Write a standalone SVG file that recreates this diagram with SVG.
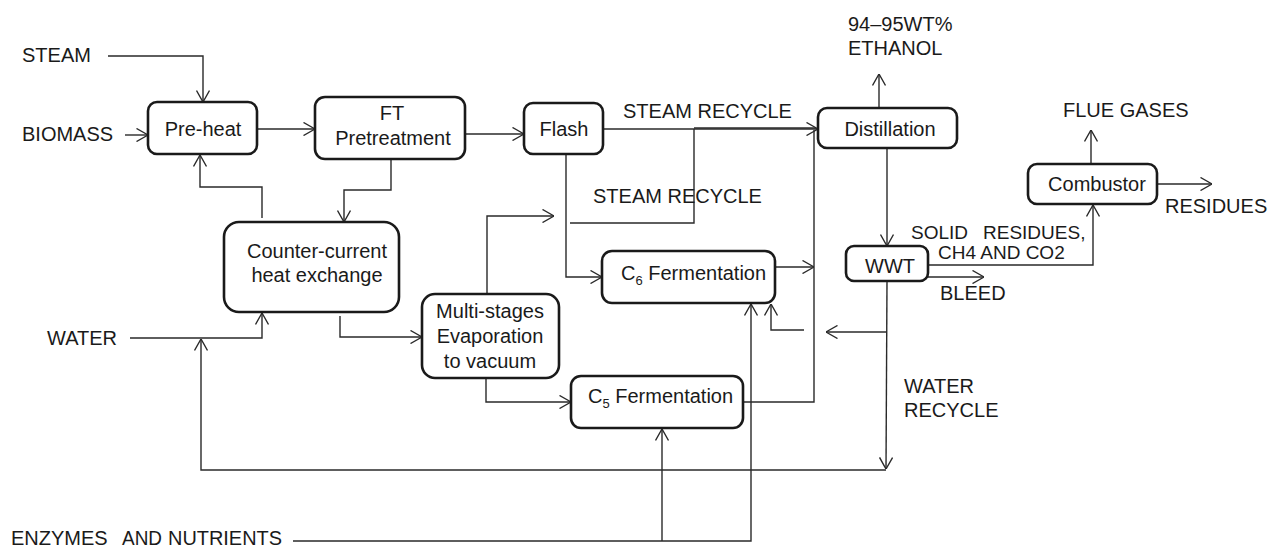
<svg xmlns="http://www.w3.org/2000/svg" width="1269" height="548" viewBox="0 0 1269 548">
<defs>
<style>
text{font-family:"Liberation Sans",Arial,sans-serif;font-size:20px;fill:#1a1a1a}
.box{fill:#fff;stroke:#1a1a1a;stroke-width:2.6}
.c{fill:none;stroke:#2a2a2a;stroke-width:1.4}
.m{text-anchor:middle}
.s{font-size:19px}
</style>
<marker id="a" viewBox="0 0 12 14" refX="12" refY="7" markerWidth="12" markerHeight="14" markerUnits="userSpaceOnUse" orient="auto">
<path d="M0.5,0.5 L12,7 L0.5,13.5" fill="none" stroke="#2a2a2a" stroke-width="1.4"/>
</marker>
</defs>
<rect width="1269" height="548" fill="#fff"/>
<g id="connectors">
<path class="c" d="M108,56 H203 V102" marker-end="url(#a)"/>
<path class="c" d="M125,135 H148" marker-end="url(#a)"/>
<path class="c" d="M257,129 H315" marker-end="url(#a)"/>
<path class="c" d="M465,134 H524" marker-end="url(#a)"/>
<path class="c" d="M603,129 H818" marker-end="url(#a)"/>
<path class="c" d="M694,128 H816" stroke-width="2"/>
<path class="c" d="M570,223 H694 V129"/>
<path class="c" d="M566,154 V277 H602" marker-end="url(#a)"/>
<path class="c" d="M879,108 V74" marker-end="url(#a)"/>
<path class="c" d="M887,148 V246" marker-end="url(#a)"/>
<path class="c" d="M928,265 H1093 V205" marker-end="url(#a)"/>
<path class="c" d="M928,277 H984" marker-end="url(#a)"/>
<path class="c" d="M1091,164 V130" marker-end="url(#a)"/>
<path class="c" d="M1157,184 H1212" marker-end="url(#a)"/>
<path class="c" d="M887,281 L886,469" marker-end="url(#a)"/>
<path class="c" d="M886,470 H201 V339" marker-end="url(#a)"/>
<path class="c" d="M130,338 H262 V313" marker-end="url(#a)"/>
<path class="c" d="M262,218 V187 H200 V155" marker-end="url(#a)"/>
<path class="c" d="M391,159 V190 H344 V222" marker-end="url(#a)"/>
<path class="c" d="M340,316 V337 H422" marker-end="url(#a)"/>
<path class="c" d="M487,294 V216 H554" marker-end="url(#a)"/>
<path class="c" d="M486,378 V402 H571" marker-end="url(#a)"/>
<path class="c" d="M775,267 H814" marker-end="url(#a)"/>
<path class="c" d="M743,402 H814 V130"/>
<path class="c" d="M887,332 H826" marker-end="url(#a)"/>
<path class="c" d="M804,330 H771 V304" marker-end="url(#a)"/>
<path class="c" d="M293,541 H751 V304" marker-end="url(#a)"/>
<path class="c" d="M662,541 V429" marker-end="url(#a)"/>
</g>
<g id="preheat"><rect class="box" x="148" y="102" width="109" height="52" rx="9"/><text class="m" x="203" y="136">Pre-heat</text></g>
<g id="ft"><rect class="box" x="315" y="97" width="150" height="62" rx="10"/><text class="m" x="392" y="120">FT</text><text class="m" x="393" y="145">Pretreatment</text></g>
<g id="flash"><rect class="box" x="524" y="103" width="79" height="51" rx="9"/><text class="m" x="564" y="136">Flash</text></g>
<g id="distillation"><rect class="box" x="818" y="108" width="139" height="40" rx="9"/><text class="m" x="890" y="136">Distillation</text></g>
<g id="wwt"><rect class="box" x="846" y="246" width="82" height="35" rx="8"/><text class="m" x="890" y="273">WWT</text></g>
<g id="combustor"><rect class="box" x="1028" y="164" width="129" height="40" rx="9"/><text class="m" x="1097" y="191">Combustor</text></g>
<g id="counter"><rect class="box" x="224" y="222" width="175" height="90" rx="15"/><text class="m" x="317" y="258">Counter-current</text><text class="m" x="317" y="282">heat exchange</text></g>
<g id="multi"><rect class="box" x="422" y="294" width="137" height="84" rx="13"/><text class="m" x="490" y="318">Multi-stages</text><text class="m" x="490" y="343">Evaporation</text><text class="m" x="490" y="368">to vacuum</text></g>
<g id="c6"><rect class="box" x="602" y="251" width="173" height="52" rx="10"/><text x="621" y="280">C<tspan font-size="13" dy="5">6</tspan><tspan dy="-5"> Fermentation</tspan></text></g>
<g id="c5"><rect class="box" x="571" y="376" width="172" height="52" rx="10"/><text x="588" y="403">C<tspan font-size="13" dy="5">5</tspan><tspan dy="-5"> Fermentation</tspan></text></g>
<g id="labels">
<text x="22" y="62">STEAM</text>
<text x="22" y="141">BIOMASS</text>
<text x="47" y="345">WATER</text>
<text x="11" y="545">ENZYMES<tspan x="122" textLength="40" lengthAdjust="spacingAndGlyphs">AND</tspan><tspan x="168" textLength="114" lengthAdjust="spacingAndGlyphs">NUTRIENTS</tspan></text>
<text x="623" y="118">STEAM RECYCLE</text>
<text x="593" y="203">STEAM RECYCLE</text>
<text x="848" y="31">94–95WT%</text>
<text x="848" y="55">ETHANOL</text>
<text x="1063" y="117">FLUE GASES</text>
<text x="1165" y="213">RESIDUES</text>
<text class="s" x="911" y="239">SOLID<tspan x="983">RESIDUES,</tspan></text>
<text class="s" x="938" y="259">CH4 AND CO2</text>
<text x="940" y="300">BLEED</text>
<text x="904" y="393">WATER</text>
<text x="904" y="417">RECYCLE</text>
</g>
</svg>
